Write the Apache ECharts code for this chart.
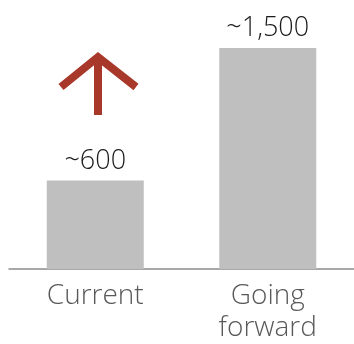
<!DOCTYPE html>
<html><head><meta charset="utf-8">
<script src="https://cdn.jsdelivr.net/npm/echarts@6/dist/echarts.min.js"></script>
<style>html,body{margin:0;padding:0;background:#fff}#c{width:354px;height:344px}</style>
</head><body><div id="c"></div>
<script>
const categories = ['Current', 'Going\nforward'];
const values = [600, 1500];
const valueLabels = ['~600', '~1,500'];

const chart = echarts.init(document.getElementById('c'), null, {renderer: 'canvas'});
chart.setOption({
  animation: false,
  grid: {left: 9, right: -5, top: 48, bottom: 75},
  xAxis: {
    type: 'category', data: categories,
    axisLine: {lineStyle: {color: '#8c8c8c', width: 1.5}},
    axisTick: {show: false},
    axisLabel: {color: '#595959', fontFamily: 'Open Sans', fontWeight: 300, fontSize: 28, lineHeight: 32, margin: 11}
  },
  yAxis: {type: 'value', min: 0, max: 1500, show: false, splitLine: {show: false}},
  series: [{
    type: 'bar', data: values, barWidth: 97,
    itemStyle: {color: '#bfbfbf'},
    label: {
      show: true, position: 'top', distance: 6,
      fontFamily: 'Open Sans', fontWeight: 300, fontSize: 27, color: '#1a1a1a',
      formatter: p => valueLabels[p.dataIndex]
    }
  }],
  graphic: [
    {type: 'line', shape: {x1: 98, y1: 58, x2: 98, y2: 115}, style: {stroke: '#a8382a', lineWidth: 8}},
    {type: 'polyline', shape: {points: [[61, 87], [98, 57], [136, 87]]}, style: {stroke: '#a8382a', lineWidth: 8, fill: null, lineJoin: 'miter'}}
  ]
});
</script></body></html>
